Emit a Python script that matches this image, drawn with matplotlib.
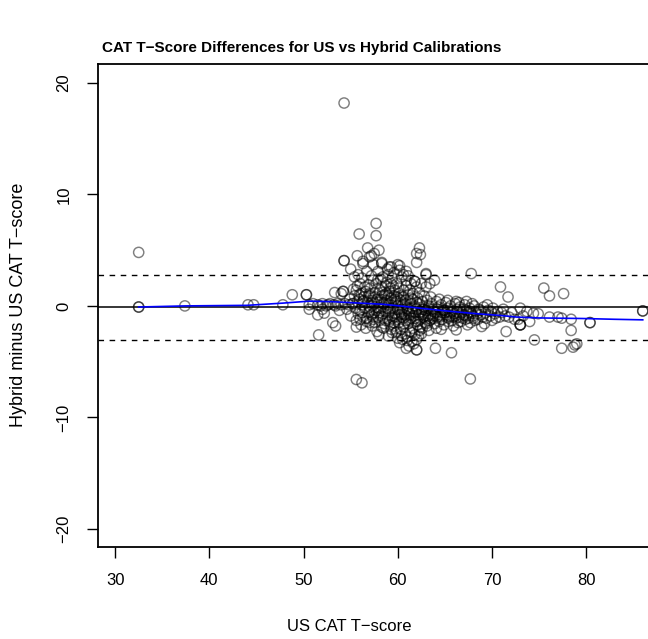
import matplotlib
matplotlib.use("Agg")
import matplotlib.pyplot as plt

plt.rcParams['font.family'] = ['Liberation Sans', 'DejaVu Sans']

# ---- data ----
# sparse points on the left
sparse_x = [32.5, 32.5, 32.5, 37.4, 44.1, 44.7, 47.8, 48.8, 50.3, 50.3, 50.6]
sparse_y = [4.8, -0.1, -0.1, 0.0, 0.1, 0.1, 0.1, 1.0, 1.0, 1.0, 0.1]

# points between 50 and 55 (baseline row and a few off it)
left_x = [51.0, 51.5, 52.0, 52.4, 52.8, 53.2, 53.6, 54.0, 54.4, 54.8, 55.2, 51.8, 52.6,
          53.4, 50.6, 52.2, 51.5, 53.1, 53.4, 51.6, 54.2, 54.2, 54.0, 53.3, 52.0, 53.8,
          54.3, 54.3, 54.3, 55.6, 56.2]
left_y = [0.2, 0.1, 0.2, 0.0, 0.2, 0.1, 0.2, 0.1, 0.2, 0.1, 0.2, 0.0, 0.1,
          0.0, -0.3, -0.65, -0.8, -1.5, -1.8, -2.6, 1.3, 1.3, 1.1, 1.2, -0.3, -0.4,
          4.06, 4.06, 18.2, -6.6, -6.9]

# upper part of the cluster
upper_x = [57.7, 55.9, 57.7, 56.8, 58.0, 56.3, 57.2, 58.3, 59.1, 60.2, 60.9, 62.0, 62.3,
           62.4, 63.0, 63.9, 56.3, 57.0, 57.5, 58.3, 57.4, 56.7, 57.9, 58.4, 59.0, 59.3,
           60.0, 60.2, 60.6, 59.3, 59.7, 57.4, 57.7, 58.3, 57.0, 62.0, 63.0, 62.5, 63.4,
           60.9, 61.8, 61.8, 62.0, 61.3, 60.6, 63.0, 56.0, 55.6, 56.5, 58.8, 59.9, 55.4,
           55.0, 55.8, 55.7,
           58.2, 58.7, 59.4, 59.9, 60.4, 60.9, 61.4, 61.1, 59.6, 58.9, 57.9, 57.2, 56.9,
           56.2, 55.7, 60.1, 61.6, 62.3, 62.8, 63.5, 64.4, 65.3, 66.5, 67.9, 69.5]
upper_y = [7.4, 6.45, 6.3, 5.2, 5.0, 4.0, 4.5, 3.9, 3.5, 3.6, 3.1, 3.9, 5.2,
           4.6, 2.8, 2.3, 3.8, 4.4, 4.7, 3.8, 3.7, 3.1, 3.1, 2.6, 2.8, 3.5,
           3.7, 3.2, 2.8, 2.0, 1.4, 2.3, 2.0, 1.7, 1.1, 4.7, 2.9, 2.0, 2.0,
           2.3, 2.2, 2.2, 1.7, 1.4, 1.4, 1.7, 2.0, 1.4, 1.7, 1.1, 0.8, 2.6,
           3.3, 2.8, 4.5,
           2.4, 1.8, 2.5, 2.0, 2.6, 1.8, 2.0, 2.7, 3.0, 3.3, 2.4, 2.7, 1.9,
           2.5, 1.8, 1.6, 1.1, 1.2, 0.9, 0.8, 0.6, 0.5, 0.3, 0.2, 0.1]

# dense core
core_x = [55.4, 55.7, 55.5, 55.8, 55.6, 55.3,
          56.1, 55.9, 56.2, 56.0, 56.3, 56.1, 56.4,
          56.6, 56.8, 56.5, 56.9, 56.7, 56.6,
          57.1, 57.3, 57.0, 57.2, 57.4, 57.1, 57.3,
          57.6, 57.8, 57.5, 57.7, 57.9, 57.6, 57.8,
          58.1, 58.3, 58.0, 58.2, 58.4, 58.1, 58.3, 58.0,
          58.6, 58.8, 58.5, 58.7, 58.9, 58.6, 58.8,
          59.1, 59.3, 59.0, 59.2, 59.4, 59.1, 59.3, 59.0,
          59.6, 59.8, 59.5, 59.7, 59.9, 59.6, 59.8, 59.5,
          60.1, 60.3, 60.0, 60.2, 60.4, 60.1, 60.3, 60.0, 60.2,
          60.6, 60.8, 60.5, 60.7, 60.9, 60.6, 60.8, 60.5,
          61.1, 61.3, 61.0, 61.2, 61.4, 61.1, 61.3, 61.0, 61.2,
          61.6, 61.8, 61.5, 61.7, 61.9, 61.6, 61.8, 61.5,
          62.1, 62.3, 62.0, 62.2, 62.4, 62.1, 62.3, 62.0,
          62.6, 62.8, 62.5, 62.7, 62.9, 62.6,
          63.1, 63.3, 63.0, 63.2, 63.4, 63.1,
          63.6, 63.8, 63.5, 63.7, 63.9,
          64.1, 64.3, 64.0, 64.2, 64.4, 64.1,
          64.6, 64.8, 64.5, 64.7, 64.9,
          65.1, 65.3, 65.0, 65.2, 65.4,
          65.6, 65.8, 65.5, 65.7, 65.9,
          66.1, 66.3, 66.0, 66.2, 66.4,
          66.6, 66.8, 66.5, 66.7,
          67.1, 67.3, 67.0, 67.2, 67.4,
          67.6, 67.8, 67.5, 67.7,
          68.1, 68.3, 68.0, 68.2,
          68.6, 68.8, 68.5,
          69.1, 69.3, 69.0, 69.2,
          69.6, 69.8,
          70.1, 70.3, 70.0,
          70.6, 70.8,
          71.2, 71.4,
          72.1, 72.4,
          73.0, 73.0, 73.3, 73.7, 73.0,
          58.2, 59.0, 59.7, 60.4, 61.2, 61.9, 62.6, 63.3, 64.0, 64.7, 65.4, 66.1, 66.9,
          57.2, 58.6, 60.0, 61.4, 62.8, 63.8, 65.0, 67.5, 56.3, 57.5, 59.2, 60.7, 62.4,
          55.2, 54.9, 54.6, 55.0]
core_y = [0.9, 0.4, -0.2, -0.7, -1.3, 1.5,
          1.1, 0.6, 0.1, -0.4, -1.0, -1.7, 0.8,
          1.3, 0.3, -0.2, -0.6, -1.4, -2.0,
          0.9, 0.5, -0.1, -0.8, -1.2, 1.6, -1.8,
          1.2, 0.6, 0.2, -0.4, -1.0, -1.5, -2.3,
          1.4, 0.9, 0.3, -0.2, -0.7, -1.3, -1.9, -2.6,
          1.0, 0.5, -0.1, -0.5, -1.1, -1.6, 2.1,
          1.3, 0.7, 0.1, -0.4, -0.9, -1.4, -2.1, -2.7,
          0.9, 0.4, -0.2, -0.7, -1.2, -1.8, -2.4, 1.8,
          1.1, 0.5, 0.0, -0.5, -1.0, -1.5, -2.1, -2.9, -3.3,
          0.8, 0.2, -0.3, -0.8, -1.3, -1.9, -2.5, -3.0,
          1.0, 0.4, -0.2, -0.6, -1.1, -1.6, -2.3, -2.8, -3.6,
          0.6, 0.0, -0.5, -0.9, -1.4, -2.0, -2.6, -3.2,
          0.7, 0.2, -0.3, -0.8, -1.2, -1.7, -2.2, -3.0,
          0.4, -0.1, -0.5, -1.0, -1.5, -2.0,
          0.5, 0.0, -0.4, -0.9, -1.3, -1.8,
          0.2, -0.3, -0.7, -1.1, -1.6,
          0.4, -0.1, -0.6, -1.0, -1.4, -2.0,
          0.1, -0.4, -0.8, -1.2, -1.7,
          0.3, -0.2, -0.6, -1.0, -1.4,
          0.0, -0.5, -0.9, -1.3, -1.8,
          0.2, -0.3, -0.7, -1.1, -1.5,
          -0.1, -0.6, -1.0, -1.4,
          0.1, -0.4, -0.8, -1.2, -1.7,
          -0.2, -0.7, -1.1, -1.5,
          0.0, -0.5, -0.9, -1.3,
          -0.3, -0.8, -1.2,
          -0.1, -0.6, -1.0, -1.6,
          -0.4, -0.9,
          -0.2, -0.7, -1.3,
          -0.5, -1.0,
          -0.3, -0.9,
          -0.6, -1.2,
          -1.7, -1.7, -0.9, -0.5, -0.2,
          -0.9, -0.6, -1.0, -0.7, -1.3, -0.6, -0.8, -1.1, -0.9, -0.6, -1.1, -0.9, -1.1,
          0.3, 0.3, 0.4, 0.2, -0.3, -0.9, -0.4, -0.6, 0.4, -0.6, -1.7, -1.6, -1.9,
          0.2, 0.6, -0.3, -0.9]

# second pass over the darkest part of the cluster
dense_x = [55.9, 56.4, 56.2, 56.7, 56.9, 57.3, 57.0, 57.6, 57.9, 57.4, 58.2, 58.5, 58.0,
           58.7, 58.4, 59.0, 59.3, 58.9, 59.4, 59.2, 59.7, 60.0, 59.6, 60.3, 60.5, 60.1,
           60.6, 60.8, 61.1, 60.9, 61.4, 61.6, 61.3, 61.8, 62.0, 62.3, 62.1, 62.6, 62.9,
           63.2, 63.5, 63.0, 63.8, 64.2, 64.5, 64.9, 65.2, 65.6, 65.9, 66.3, 66.6, 67.0,
           67.3, 67.7, 68.0, 68.4, 68.8, 69.4, 69.9, 70.4, 71.0, 71.8, 72.8,
           59.9, 60.4, 61.0, 61.5, 62.2, 61.7, 60.9, 62.5, 59.4, 58.5, 57.0, 56.0, 55.6,
           63.3, 64.6]
dense_y = [1.0, 0.5, -0.6, -1.1, 0.9, 0.0, -0.5, 0.8, -0.2, -1.0, 0.6, 0.2, -0.6,
           -1.3, 1.2, 0.9, 0.3, -0.2, -1.1, 1.6, 0.6, -0.3, -1.5, 0.9, 0.1, -0.8,
           -1.1, 0.5, -0.3, -0.9, 0.7, -0.2, -0.8, -1.1, 0.3, -0.6, -1.4, -0.3, -0.9,
           -0.2, -1.2, -1.6, -0.5, -0.3, -1.0, -0.4, -0.8, -0.6, -1.0, -0.5, -0.8, -0.3,
           -0.9, -0.5, -1.1, -0.7, -0.4, -1.1, -0.5, -1.1, -0.6, -1.0, -1.2,
           -2.3, -2.7, -3.1, -2.4, -2.7, -3.4, -3.8, -2.5, -2.4, -2.0, -1.5, -1.2, -1.9,
           -2.2, -2.1]

# lower outliers and right-hand points
right_x = [62.0, 62.0, 64.0, 65.7, 67.8, 70.9, 71.7, 75.5, 76.1, 77.6, 74.9, 76.1, 77.0,
           77.4, 78.4, 78.4, 80.4, 80.4, 86.0, 86.0, 74.5, 77.4, 78.6, 78.8, 79.0, 67.7,
           71.5, 73.0, 74.0, 68.9, 66.2, 66.2, 67.3, 74.4]
right_y = [-3.94, -3.94, -3.8, -4.2, 2.9, 1.7, 0.8, 1.6, 0.9, 1.1, -0.7, -1.0, -1.0,
           -1.1, -1.2, -2.2, -1.5, -1.5, -0.45, -0.45, -3.05, -3.8, -3.7, -3.5, -3.4, -6.55,
           -2.3, -1.7, -1.4, -1.85, -2.15, 0.4, 0.4, -0.66]

# smooth (loess) curve
smooth_x = [32.5, 37.4, 44.0, 47.8, 50.5, 53.0, 56.0, 58.4, 60.2, 62.0, 63.4, 65.5,
            67.0, 68.7, 70.8, 72.6, 75.0, 79.6, 83.0, 86.0]
smooth_y = [-0.1, 0.0, 0.05, 0.25, 0.42, 0.38, 0.25, 0.15, 0.0, -0.17, -0.3, -0.48,
            -0.6, -0.72, -0.85, -1.0, -1.08, -1.13, -1.2, -1.25]

mean_diff = -0.12
upper_loa = 2.8
lower_loa = -3.05

x_ticks = [30, 40, 50, 60, 70, 80]
y_ticks = [-20, -10, 0, 10, 20]

# ---- figure ----
W, H = 648, 639
fig = plt.figure(figsize=(W / 100, H / 100), dpi=100)
left_px, right_px, top_px, bot_px = 97.7, 661.6, 64.0, 546.7
ax = fig.add_axes([left_px / W, (H - bot_px) / H, (right_px - left_px) / W, (bot_px - top_px) / H])
ax.set_xlim(28.15, 88.0)
ax.set_ylim(-21.6, 21.7)

xs = sparse_x + left_x + upper_x + core_x + dense_x + right_x
ys = sparse_y + left_y + upper_y + core_y + dense_y + right_y
ax.scatter(xs, ys, s=54, facecolors='none', edgecolors=(0, 0, 0, 0.5), linewidths=1.05, zorder=3)

ax.axhline(mean_diff, color='black', lw=1.1, zorder=2)
ax.axhline(upper_loa, color='black', lw=1.0, ls=(0, (4, 4)), zorder=2)
ax.axhline(lower_loa, color='black', lw=1.0, ls=(0, (4, 4)), zorder=2)
ax.plot(smooth_x, smooth_y, color='#0000ff', lw=1.2, zorder=4)

ax.set_xticks(x_ticks)
ax.set_yticks(y_ticks)
ax.tick_params(axis='both', direction='out', length=8, width=1.0, labelsize=12)
ax.tick_params(axis='x', pad=11)
ax.tick_params(axis='y', pad=11)
for lab in ax.get_yticklabels():
    lab.set_rotation(90)
    lab.set_va('center')
for sp in ax.spines.values():
    sp.set_linewidth(1.3)

fig.text(301.5 / W, 1 - 48 / H, 'CAT T\u2212Score Differences for US vs Hybrid Calibrations',
         ha='center', va='center', fontsize=11, fontweight='bold')
fig.text(349 / W, 1 - 626.7 / H, 'US CAT T\u2212score', ha='center', va='center', fontsize=12)
fig.text(19 / W, 1 - 305 / H, 'Hybrid minus US CAT T\u2212score', ha='center', va='center',
         rotation=90, fontsize=13)

fig.savefig('out.png', dpi=100)
